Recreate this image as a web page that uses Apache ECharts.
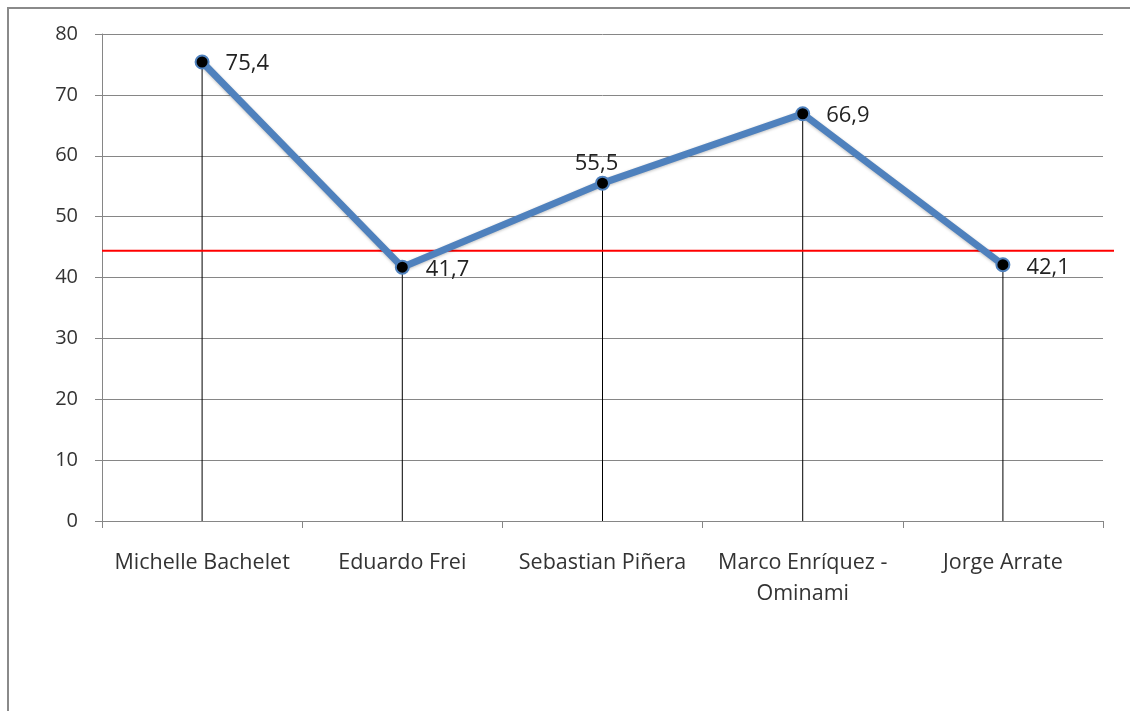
<!DOCTYPE html>
<html><head><meta charset="utf-8">
<script src="https://cdn.jsdelivr.net/npm/echarts@6/dist/echarts.min.js"></script>
<style>html,body{margin:0;padding:0;background:#fff}#c{width:1130px;height:711px}</style>
</head><body><div id="c"></div>
<script>
var categories = ['Michelle Bachelet', 'Eduardo Frei', 'Sebastian Piñera', 'Marco Enríquez -\nOminami', 'Jorge Arrate'];
var values = [75.4, 41.7, 55.5, 66.9, 42.1];
var labelPositions = ['right', 'right', 'top', 'right', 'right'];
var referenceValue = 44.4;
var yTicks = [0, 80, 10];

var FONT = 'Open Sans';
var chart = echarts.init(document.getElementById('c'), null, {renderer: 'canvas'});
var lineData = values.map(function (v, i) {
  var isTop = labelPositions[i] === 'top';
  var off = isTop ? [-6, 2] : (i === 1 || i === 4 ? [0, 3] : [0, 2]);
  return {value: v, label: {position: labelPositions[i], offset: off, distance: isTop ? 3 : 16}};
});
chart.setOption({
  animation: false,
  graphic: [{type: 'rect', shape: {x: 8, y: 8, width: 1300, height: 900}, style: {fill: 'none', stroke: '#8a8a8a', lineWidth: 2}, silent: true}],
  grid: [
    {left: 102, right: 27, top: 34, bottom: 190},
    {left: 102, right: 16, top: 34, bottom: 190}
  ],
  xAxis: [{
    type: 'category', data: categories, gridIndex: 0, boundaryGap: true,
    axisLine: {lineStyle: {color: '#868686', width: 1}},
    axisTick: {show: true, length: 7, alignWithLabel: false, lineStyle: {color: '#868686'}},
    axisLabel: {color: '#333', fontFamily: FONT, fontSize: 21.5, margin: 26, lineHeight: 31, interval: 0}
  }, {
    type: 'value', gridIndex: 1, min: 0, max: 1, show: false
  }],
  yAxis: [{
    type: 'value', gridIndex: 0, min: yTicks[0], max: yTicks[1], interval: yTicks[2],
    axisLine: {show: true, lineStyle: {color: '#868686'}},
    axisTick: {show: true, length: 7, lineStyle: {color: '#868686'}},
    splitLine: {lineStyle: {color: '#868686', width: 1}},
    axisLabel: {color: '#333', fontFamily: FONT, fontSize: 20, margin: 24}
  }, {
    type: 'value', gridIndex: 1, min: yTicks[0], max: yTicks[1], show: false
  }],
  series: [{
    type: 'bar', xAxisIndex: 0, yAxisIndex: 0, data: values, barWidth: 1,
    itemStyle: {color: '#000'}, z: 1, silent: true
  }, {
    type: 'line', xAxisIndex: 1, yAxisIndex: 1, data: [[0, referenceValue], [1, referenceValue]],
    symbol: 'none', lineStyle: {color: '#ff0000', width: 2}, z: 2, silent: true
  }, {
    type: 'line', xAxisIndex: 0, yAxisIndex: 0, data: lineData,
    symbol: 'circle', symbolSize: 13,
    lineStyle: {color: '#4f81bd', width: 7, shadowColor: 'rgba(0,0,0,0.25)', shadowBlur: 3, shadowOffsetY: 1},
    itemStyle: {color: '#000', borderColor: '#4f81bd', borderWidth: 2},
    label: {show: true, fontFamily: FONT, fontSize: 22, color: '#222',
      formatter: function (p) { return String(p.value).replace('.', ','); }},
    z: 3
  }]
});
</script></body></html>
